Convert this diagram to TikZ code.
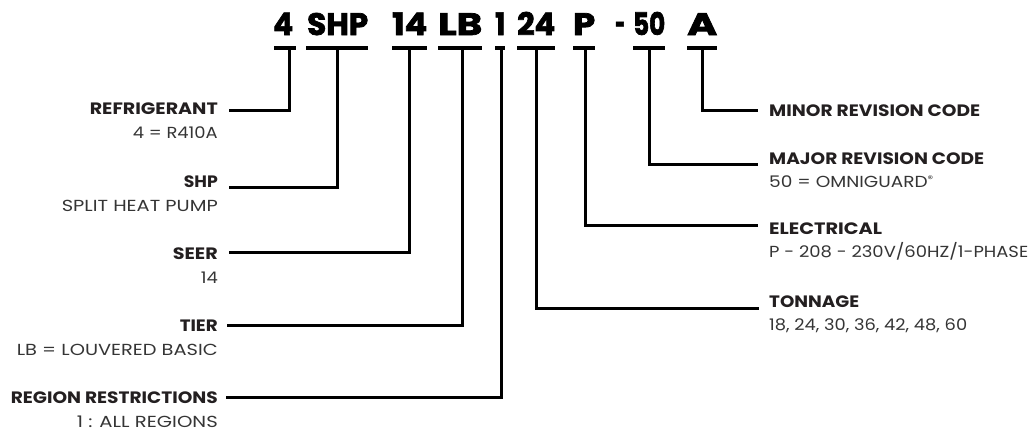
\documentclass[tikz,border=0pt]{standalone}
\usepackage{graphicx}
\usepackage{fontspec}
\setmainfont{Poppins}
\newfontfamily\ttlfont{Poppins}[BoldFeatures={FakeBold=2.4}]
\definecolor{lab}{HTML}{231F20}
\definecolor{sub}{HTML}{353535}
\newcommand\fitw[2]{\resizebox{#1pt}{\height}{#2}}
\tikzset{
  ttl/.style={font=\ttlfont\fontsize{31}{31}\selectfont\bfseries, text=black, anchor=base west, inner sep=0pt},
  lbl/.style={font=\fontsize{16.5}{16.5}\selectfont\bfseries, text=lab, inner sep=0pt},
  sbl/.style={font=\fontsize{16}{16}\selectfont, text=sub, inner sep=0pt},
  bar/.style={line width=3.2pt, black},
  conn/.style={line width=3pt, black},
}
\begin{document}
\begin{tikzpicture}[x=1pt,y=-1pt]
\useasboundingbox (0,0) rectangle (1034,434);
% title segments
\node[ttl] (t1) at (273,35) {\fitw{20}{4}};
\node[ttl] (t2) at (307,35) {\fitw{61}{SHP}};
\node[ttl] (t3) at (392,35) {\fitw{35}{14}};
\node[ttl] (t4) at (438,35) {\fitw{44}{LB}};
\node[ttl] (t5) at (495,35) {\fitw{10}{1}};
\node[ttl] (t6) at (517,35) {\fitw{38}{24}};
\node[ttl] (t7) at (573,35) {\fitw{22}{P}};
\node[ttl] (t8) at (615,35) {\fitw{10}{-}};
\node[ttl] (t9) at (633,35) {\fitw{32}{50}};
\node[ttl] (t10) at (687,35) {\fitw{30}{A}};
% bars
\draw[bar] (274,48) -- (296,48);
\draw[bar] (306,48) -- (368,48);
\draw[bar] (392,48) -- (427,48);
\draw[bar] (438,48) -- (482,48);
\draw[bar] (495,48) -- (505,48);
\draw[bar] (517,48) -- (555,48);
\draw[bar] (573,48) -- (595,48);
\draw[bar] (633,48) -- (665,48);
\draw[bar] (687,48) -- (717,48);
\coordinate (s1) at (289,48);
\coordinate (s2) at (337,48);
\coordinate (s3) at (409,48);
\coordinate (s4) at (462,48);
\coordinate (s5) at (501,48);
\coordinate (s6) at (536,48);
\coordinate (s7) at (585,48);
\coordinate (s8) at (649,48);
\coordinate (s9) at (702,48);
% left labels
\node[lbl, anchor=base east] (L1) at (218,114) {\fitw{128}{REFRIGERANT}};
\node[sbl, anchor=base east] (L1s) at (218,138) {\fitw{85}{4 = R410A}};
\node[lbl, anchor=base east] (L2) at (218,187) {\fitw{34}{SHP}};
\node[sbl, anchor=base east] (L2s) at (218,211) {\fitw{156}{SPLIT HEAT PUMP}};
\node[lbl, anchor=base east] (L3) at (218,259) {\fitw{45}{SEER}};
\node[sbl, anchor=base east] (L3s) at (218,283) {\fitw{17}{14}};
\node[lbl, anchor=base east] (L4) at (218,331) {\fitw{38}{TIER}};
\node[sbl, anchor=base east] (L4s) at (218,355) {\fitw{201}{LB = LOUVERED BASIC}};
\node[lbl, anchor=base east] (L5) at (218,403) {\fitw{207}{REGION RESTRICTIONS}};
\node[sbl, anchor=base east] (L5s) at (218,427) {\fitw{141}{1 : ALL REGIONS}};
\coordinate (e1) at (229,110.7);
\coordinate (e2) at (229,187.5);
\coordinate (e3) at (229,252);
\coordinate (e4) at (227,325);
\coordinate (e5) at (226,397);
% right labels
\node[lbl, anchor=base west] (R1) at (769,116) {\fitw{211}{MINOR REVISION CODE}};
\node[lbl, anchor=base west] (R2) at (769,164) {\fitw{215}{MAJOR REVISION CODE}};
\node[sbl, anchor=base west] (R2s) at (769,187) {\fitw{164}{50 = OMNIGUARD\raisebox{5pt}{\fontsize{9.5}{9.5}\selectfont ®}}};
\node[lbl, anchor=base west] (R3) at (769,234) {\fitw{113}{ELECTRICAL}};
\node[sbl, anchor=base west] (R3s) at (769,257.5) {\fitw{259}{P - 208 - 230V/60HZ/1-PHASE}};
\node[lbl, anchor=base west] (R4) at (769,307) {\fitw{90}{TONNAGE}};
\node[sbl, anchor=base west] (R4s) at (769,330.5) {\fitw{198}{18, 24, 30, 36, 42, 48, 60}};
\coordinate (f1) at (758,110.7);
\coordinate (f2) at (758,164);
\coordinate (f3) at (758,225.7);
\coordinate (f4) at (759,308);
% connectors
\draw[conn] (s1) |- (e1);
\draw[conn] (s2) |- (e2);
\draw[conn] (s3) |- (e3);
\draw[conn] (s4) |- (e4);
\draw[conn] (s5) |- (e5);
\draw[conn] (s9) |- (f1);
\draw[conn] (s8) |- (f2);
\draw[conn] (s7) |- (f3);
\draw[conn] (s6) |- (f4);
\end{tikzpicture}
\end{document}
